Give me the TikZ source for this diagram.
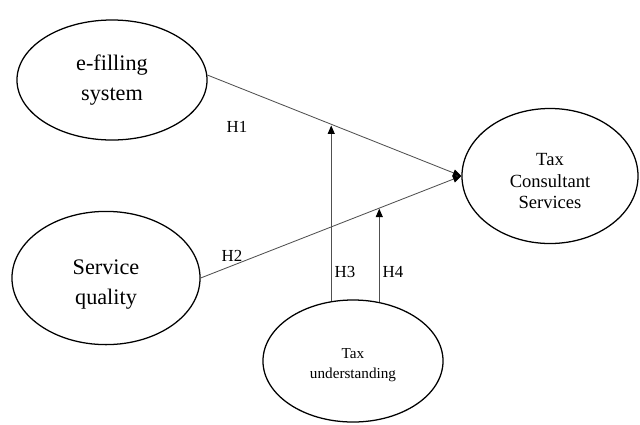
\documentclass[tikz,border=0pt]{standalone}
\usepackage{fontspec}
\setmainfont{Liberation Serif}
\usetikzlibrary{shapes.geometric, arrows.meta, calc}
\definecolor{Edge}{HTML}{505050}

\begin{document}
\begin{tikzpicture}[x=0.025cm, y=-0.025cm,
        construct/.style={ellipse, draw=black, line width=0.9pt, inner sep=0pt, align=center},
        big/.style={font=\fontsize{15.8}{21}\selectfont},
        mid/.style={font=\fontsize{13.2}{15.6}\selectfont},
        small/.style={font=\fontsize{10.8}{14.2}\selectfont},
        link/.style={-{Triangle[length=6pt, width=5pt, color=black]}, draw=Edge, line width=0.6pt},
        hyp/.style={font=\fontsize{12}{14}\selectfont, inner sep=1pt}
    ]
    \useasboundingbox (0,0) rectangle (640,424);

    % Constructs (text height pushes the lines a little below centre)
    \node[construct, big, minimum width=4.75cm, minimum height=3cm] (efs) at (112,80) {e-filling\\system};
    \node[construct, big, minimum width=4.7cm, minimum height=3.33cm, text height=41pt] (sq) at (106,278) {Service\\quality};
    \node[construct, mid, minimum width=4.4cm, minimum height=3.375cm, text height=47pt] (tcs) at (550,176) {Tax\\Consultant\\Services};
    \node[construct, small, minimum width=4.5cm, minimum height=3.05cm, text height=27pt] (tu) at (353,361) {Tax\\understanding};

    % Points where the moderating paths meet
    \coordinate (m1) at ($(efs.3)!0.5!(tcs.west)$);
    \coordinate (m2) at ($(sq.east)!0.68!(tcs.west)$);

    % Paths
    \draw[link] (efs.3) -- (tcs.west);
    \draw[link] (sq.east) -- (tcs.west);
    \draw[link] (tu.110) -- (tu.110 |- m1);
    \draw[link] (tu.66) -- (tu.66 |- m2);

    % Hypotheses
    \node[hyp] (h1) at (237,127) {H1};
    \node[hyp] (h2) at (232,256) {H2};
    \node[hyp] (h3) at (345,272) {H3};
    \node[hyp] (h4) at (393,272) {H4};
\end{tikzpicture}
\end{document}
